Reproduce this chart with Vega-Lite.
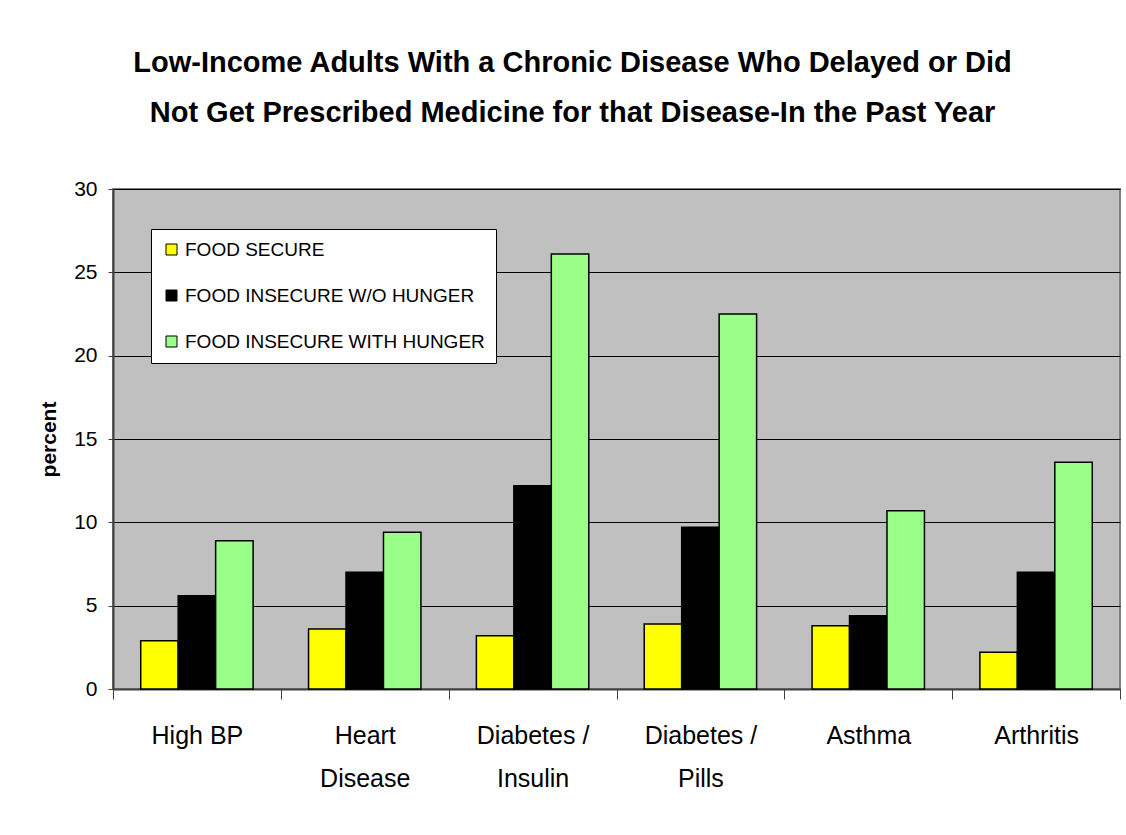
{
  "$schema": "https://vega.github.io/schema/vega-lite/v6.json",
  "autosize": "none",
  "width": 1007,
  "height": 500,
  "padding": {"left": 113, "top": 189, "right": 6, "bottom": 145},
  "background": "white",
  "title": {
    "text": ["Low-Income Adults With a Chronic Disease Who Delayed or Did", "Not Get Prescribed Medicine for that Disease-In the Past Year"],
    "font": "Liberation Sans",
    "fontSize": 29,
    "fontWeight": "bold",
    "color": "black",
    "anchor": "middle",
    "dx": -44,
    "lineHeight": 50,
    "offset": 50
  },
  "data": {
    "values": [
      {"condition": "High BP", "group": "FOOD SECURE", "percent": 2.9},
      {"condition": "High BP", "group": "FOOD INSECURE W/O HUNGER", "percent": 5.6},
      {"condition": "High BP", "group": "FOOD INSECURE WITH HUNGER", "percent": 8.9},
      {"condition": "Heart Disease", "group": "FOOD SECURE", "percent": 3.6},
      {"condition": "Heart Disease", "group": "FOOD INSECURE W/O HUNGER", "percent": 7.0},
      {"condition": "Heart Disease", "group": "FOOD INSECURE WITH HUNGER", "percent": 9.4},
      {"condition": "Diabetes / Insulin", "group": "FOOD SECURE", "percent": 3.2},
      {"condition": "Diabetes / Insulin", "group": "FOOD INSECURE W/O HUNGER", "percent": 12.2},
      {"condition": "Diabetes / Insulin", "group": "FOOD INSECURE WITH HUNGER", "percent": 26.1},
      {"condition": "Diabetes / Pills", "group": "FOOD SECURE", "percent": 3.9},
      {"condition": "Diabetes / Pills", "group": "FOOD INSECURE W/O HUNGER", "percent": 9.7},
      {"condition": "Diabetes / Pills", "group": "FOOD INSECURE WITH HUNGER", "percent": 22.5},
      {"condition": "Asthma", "group": "FOOD SECURE", "percent": 3.8},
      {"condition": "Asthma", "group": "FOOD INSECURE W/O HUNGER", "percent": 4.4},
      {"condition": "Asthma", "group": "FOOD INSECURE WITH HUNGER", "percent": 10.7},
      {"condition": "Arthritis", "group": "FOOD SECURE", "percent": 2.2},
      {"condition": "Arthritis", "group": "FOOD INSECURE W/O HUNGER", "percent": 7.0},
      {"condition": "Arthritis", "group": "FOOD INSECURE WITH HUNGER", "percent": 13.6}
    ]
  },
  "mark": {"type": "bar", "stroke": "black", "strokeWidth": 1.5},
  "encoding": {
    "x": {
      "field": "condition",
      "type": "nominal",
      "sort": null,
      "scale": {"paddingInner": 0, "paddingOuter": 0},
      "axis": {
        "title": null,
        "labelAngle": 0,
        "tickBand": "extent",
        "tickSize": 10,
        "tickColor": "#404040",
        "tickWidth": 1,
        "domainColor": "#404040",
        "domainWidth": 2,
        "labelFont": "Liberation Sans",
        "labelFontSize": 25,
        "labelColor": "black",
        "labelPadding": 24,
        "labelLineHeight": 43,
        "labelBaseline": "top",
        "labelExpr": "datum.label == 'Heart Disease' ? ['Heart', 'Disease'] : datum.label == 'Diabetes / Insulin' ? ['Diabetes /', 'Insulin'] : datum.label == 'Diabetes / Pills' ? ['Diabetes /', 'Pills'] : datum.label",
        "grid": false
      }
    },
    "xOffset": {
      "field": "group",
      "type": "nominal",
      "sort": ["FOOD SECURE", "FOOD INSECURE W/O HUNGER", "FOOD INSECURE WITH HUNGER"],
      "scale": {"paddingInner": 0, "paddingOuter": 0.74}
    },
    "y": {
      "field": "percent",
      "type": "quantitative",
      "scale": {"domain": [0, 30], "nice": false},
      "axis": {
        "title": "percent",
        "titleFont": "Liberation Sans",
        "titleFontSize": 21,
        "titleFontWeight": "bold",
        "titleColor": "black",
        "titlePadding": 14,
        "values": [0, 5, 10, 15, 20, 25, 30],
        "tickSize": 5,
        "tickColor": "#404040",
        "domainColor": "#404040",
        "domainWidth": 2,
        "labelFont": "Liberation Sans",
        "labelFontSize": 21,
        "labelColor": "black",
        "labelPadding": 11,
        "grid": true,
        "gridColor": "black",
        "gridWidth": 1,
        "gridOpacity": 1
      }
    },
    "fill": {
      "field": "group",
      "type": "nominal",
      "sort": ["FOOD SECURE", "FOOD INSECURE W/O HUNGER", "FOOD INSECURE WITH HUNGER"],
      "scale": {
        "domain": ["FOOD SECURE", "FOOD INSECURE W/O HUNGER", "FOOD INSECURE WITH HUNGER"],
        "range": ["#FFFF00", "#000000", "#99FF88"]
      },
      "legend": {
        "title": null,
        "orient": "none",
        "legendX": 38,
        "legendY": 40,
        "fillColor": "white",
        "strokeColor": "black",
        "padding": 11,
        "symbolType": "square",
        "symbolSize": 121,
        "symbolStrokeColor": "black",
        "symbolStrokeWidth": 1,
        "labelFont": "Liberation Sans",
        "labelFontSize": 19,
        "labelColor": "black",
        "labelLimit": 400,
        "labelOffset": 4,
        "rowPadding": 26
      }
    }
  },
  "config": {
    "view": {"fill": "#C0C0C0", "stroke": "#808080", "strokeWidth": 2}
  }
}
